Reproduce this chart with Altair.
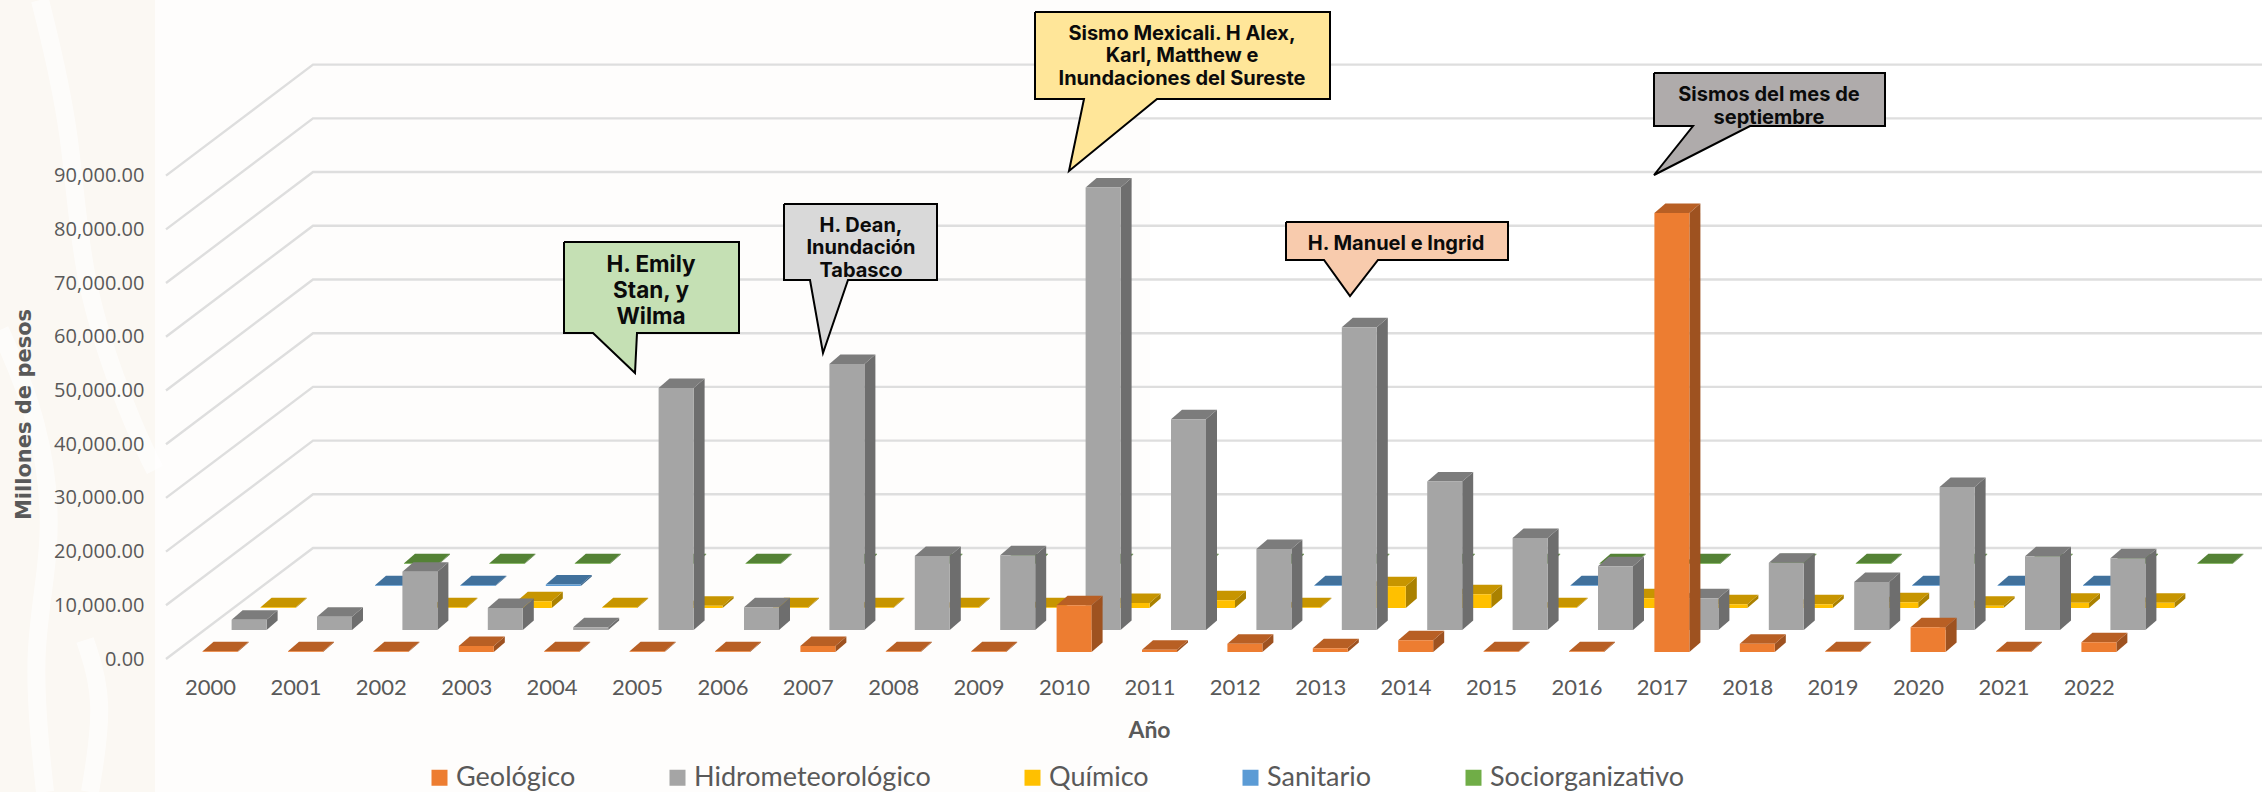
import altair as alt
import pandas as pd

# Annual damage by type of disaster, millions of pesos
YEARS = list(range(2000, 2023))
SERIES = ["Geológico", "Hidrometeorológico", "Químico", "Sanitario", "Sociorganizativo"]

GEOLOGICO = [120, 120, 120, 1120, 120, 120, 120, 1120, 120, 120, 8690, 430, 1550, 680, 2170,
             120, 120, 81750, 1550, 120, 4590, 120, 1800]
HIDRO = [1925, 2480, 10860, 4100, 500, 45070, 4250, 49530, 13780, 13900, 82400, 39230, 15080,
         56350, 27670, 17130, 11850, 5900, 12540, 8940, 26630, 13720, 13350]
QUIMICO = [120, None, 120, 1240, 120, 400, 120, 120, 120, 120, 930, 1430, 120, 4030, 2550,
           120, 1800, 680, 680, 1050, 430, 990, 990]
SANITARIO = [None, 120, 120, 300, None, None, None, None, None, None, None, None, 120, None, None,
             120, None, None, None, 120, 120, 120, None]
SOCIO = [None] + [120] * 22
VALUES = [GEOLOGICO, HIDRO, QUIMICO, SANITARIO, SOCIO]

FRONT = ["#ED7D31", "#A5A5A5", "#FFC000", "#5B9BD5", "#70AD47"]
TOP = ["#B85F24", "#7C7C7C", "#C79500", "#41719C", "#548235"]
SIDE = ["#9E5220", "#6E6E6E", "#AA8100", "#386287", "#4A7230"]

Y_TICKS = list(range(0, 100000, 10000))

# Page geometry of the oblique projection
PLOT_LEFT, PLOT_BOTTOM, PAGE_W, PAGE_H = 166, 665, 2262, 792
PX_PER_YEAR = 85.4
PESOS_PER_PX = 186.2
YEAR_ZERO_PX = 210
FLOOR_PX = 659


def year_at(px):
    return 2000 + (px - YEAR_ZERO_PX) / PX_PER_YEAR


def pesos_at(py):
    return (FLOOR_PX - py) * PESOS_PER_PX


def year_span(px):
    return px / PX_PER_YEAR


def pesos_span(px):
    return px * PESOS_PER_PX


X_SCALE = alt.Scale(domain=[year_at(PLOT_LEFT), year_at(PAGE_W)], nice=False, zero=False)
Y_SCALE = alt.Scale(domain=[pesos_at(PLOT_BOTTOM), pesos_at(0)], nice=False, zero=False)

LABEL_COLOR = "#595959"

X_AXIS = alt.Axis(
    values=YEARS, format="d", grid=False, domain=False, ticks=False, zindex=1,
    labelFont="Lato", labelFontSize=22, labelColor=LABEL_COLOR, labelPadding=12,
    labelFlush=False, labelOverlap=False,
    title="Año", titleFont="Lato", titleFontSize=23, titleFontWeight="bold",
    titleColor=LABEL_COLOR, titleX=983, titleY=54,
)
Y_AXIS = alt.Axis(
    values=Y_TICKS, format=",.2f", grid=False, domain=False, ticks=False, zindex=1,
    labelFont="Open Sans", labelFontSize=20, labelColor=LABEL_COLOR, labelPadding=22,
    title="Millones de pesos", titleFont="DejaVu Sans", titleFontSize=21,
    titleFontWeight="bold", titleColor=LABEL_COLOR, titleX=-132, titleY=414,
)
PLAIN_X = alt.X("x:Q", scale=X_SCALE, axis=X_AXIS)
PLAIN_Y = alt.Y("y:Q", scale=Y_SCALE, axis=Y_AXIS, stack=None)

layers = []

# Faint page backdrop, stronger along the left edge
BACKDROP = [
    {"x": year_at(0), "x2": year_at(155), "y": pesos_at(0), "y2": pesos_at(PAGE_H), "tone": "#FBF8F3"},
    {"x": year_at(155), "x2": year_at(1150), "y": pesos_at(0), "y2": pesos_at(PAGE_H), "tone": "#FEFDFC"},
]
layers.append(
    alt.Chart(pd.DataFrame(BACKDROP)).mark_rect().encode(
        x=PLAIN_X, x2="x2:Q", y=PLAIN_Y, y2="y2:Q",
        fill=alt.Fill("tone:N", scale=None),
    )
)
SWIRLS = [
    [(40, 0), (72, 130), (80, 280), (130, 420), (155, 470)],
    [(0, 330), (40, 420), (55, 540), (30, 650), (45, 792)],
    [(85, 640), (105, 700), (90, 792)],
]
for path in SWIRLS:
    stroke = pd.DataFrame(
        [{"i": i, "x": year_at(px), "y": pesos_at(py)} for i, (px, py) in enumerate(path)]
    )
    layers.append(
        alt.Chart(stroke).mark_line(color="#FFFFFF", strokeWidth=18, opacity=0.6, interpolate="basis").encode(
            x=PLAIN_X, y=PLAIN_Y, order="i:Q",
        )
    )

# Wall and floor gridlines
wall_dx, wall_dy = year_span(147), pesos_span(111)
grid_rows = []
for tick in Y_TICKS:
    grid_rows += [
        {"tick": tick, "i": 0, "x": year_at(PLOT_LEFT), "y": tick},
        {"tick": tick, "i": 1, "x": year_at(PLOT_LEFT) + wall_dx, "y": tick + wall_dy},
        {"tick": tick, "i": 2, "x": year_at(PAGE_W), "y": tick + wall_dy},
    ]
layers.append(
    alt.Chart(pd.DataFrame(grid_rows)).mark_line(color="#DEDEDE", strokeWidth=2.4).encode(
        x=PLAIN_X, y=PLAIN_Y, detail="tick:Q", order="i:Q",
    )
)

# Bars, painted back to front
ROW_DX, ROW_DY = year_span(29), pesos_span(22)
BAR_W = year_span(35)
DEPTH_DX, DEPTH_DY = year_span(11), pesos_span(9.5)
FIRST_BAR = year_span(-7.4)
FIRST_BASE = pesos_span(7)

for row in range(len(SERIES) - 1, -1, -1):
    fronts, sides, tops = [], [], []
    for year, value in zip(YEARS, VALUES[row]):
        if value is None:
            continue
        x0 = year + FIRST_BAR + row * ROW_DX
        x1 = x0 + BAR_W
        base = FIRST_BASE + row * ROW_DY
        top = base + value
        fronts.append({"year": year, "serie": SERIES[row], "x": x0, "x2": x1, "y": base, "y2": top})
        sides += [
            {"year": year, "x": x1, "y": base, "y2": top},
            {"year": year, "x": x1 + DEPTH_DX, "y": base + DEPTH_DY, "y2": top + DEPTH_DY},
        ]
        tops += [
            {"year": year, "x": x0, "y": top, "y2": top},
            {"year": year, "x": x0 + DEPTH_DX, "y": top, "y2": top + DEPTH_DY},
            {"year": year, "x": x1, "y": top, "y2": top + DEPTH_DY},
            {"year": year, "x": x1 + DEPTH_DX, "y": top + DEPTH_DY, "y2": top + DEPTH_DY},
        ]
    for rows, colour in ((sides, SIDE[row]), (tops, TOP[row])):
        layers.append(
            alt.Chart(pd.DataFrame(rows)).mark_area(color=colour, line=False, interpolate="linear").encode(
                x=PLAIN_X, y=PLAIN_Y, y2="y2:Q", detail="year:O",
            )
        )
    layers.append(
        alt.Chart(pd.DataFrame(fronts)).mark_rect().encode(
            x=PLAIN_X, x2="x2:Q", y=PLAIN_Y, y2="y2:Q",
            color=alt.Color(
                "serie:N",
                scale=alt.Scale(domain=SERIES, range=FRONT),
                legend=alt.Legend(
                    title=None, orient="none", legendX=260, legendY=764, direction="horizontal",
                    columns=5, columnPadding=88, symbolType="square", symbolSize=256,
                    symbolStrokeWidth=0, symbolOpacity=1, labelFont="Lato", labelFontSize=27,
                    labelColor=LABEL_COLOR, labelOffset=3, padding=0, labelLimit=400,
                ),
            ),
        )
    )

# Speech-bubble annotations: outline in page pixels, then one text per line
CALLOUTS = [
    {"fill": "#C5E0B4", "size": 22.5, "cx": 651,
     "lines": [("H. Emily", 265), ("Stan, y", 291), ("Wilma", 317)],
     "outline": [(564, 242), (739, 242), (739, 333), (637, 333), (635, 373), (593, 333), (564, 333)]},
    {"fill": "#D9D9D9", "size": 20, "cx": 861,
     "lines": [("H. Dean,", 226), ("Inundación", 248), ("Tabasco", 271)],
     "outline": [(784, 204), (937, 204), (937, 280), (848, 280), (823, 353), (810, 280), (784, 280)]},
    {"fill": "#FFE699", "size": 20, "cx": 1182,
     "lines": [("Sismo Mexicali. H Alex,", 34), ("Karl, Matthew e", 56), ("Inundaciones del Sureste", 79)],
     "outline": [(1035, 12), (1330, 12), (1330, 99), (1157, 99), (1069, 171), (1084, 99), (1035, 99)]},
    {"fill": "#F8CBAD", "size": 20, "cx": 1396,
     "lines": [("H. Manuel e Ingrid", 244)],
     "outline": [(1286, 222), (1508, 222), (1508, 260), (1378, 260), (1350, 296), (1324, 260), (1286, 260)]},
    {"fill": "#AFABAB", "size": 20, "cx": 1769,
     "lines": [("Sismos del mes de", 95), ("septiembre", 118)],
     "outline": [(1654, 73), (1885, 73), (1885, 126), (1750, 126), (1654, 175), (1693, 126), (1654, 126)]},
]
for note in CALLOUTS:
    ring = note["outline"] + note["outline"][:1]
    outline = pd.DataFrame(
        [{"i": i, "x": year_at(px), "y": pesos_at(py)} for i, (px, py) in enumerate(ring)]
    )
    layers.append(
        alt.Chart(outline).mark_line(fill=note["fill"], stroke="#000000", strokeWidth=2).encode(
            x=PLAIN_X, y=PLAIN_Y, order="i:Q",
        )
    )
    words = pd.DataFrame(
        [{"x": year_at(note["cx"]), "y": pesos_at(py), "t": text} for text, py in note["lines"]]
    )
    layers.append(
        alt.Chart(words).mark_text(
            font="Inter", fontWeight=700, fontSize=note["size"], color="#0B0B0B",
            align="center", baseline="middle",
        ).encode(x=PLAIN_X, y=PLAIN_Y, text="t:N")
    )

chart = alt.layer(*layers).properties(
    width=PAGE_W - PLOT_LEFT,
    height=PLOT_BOTTOM,
    autosize=alt.AutoSizeParams(type="none"),
    padding={"left": PLOT_LEFT, "top": 0, "right": 0, "bottom": PAGE_H - PLOT_BOTTOM},
    background="#FFFFFF",
).configure_view(strokeWidth=0)

chart.save("out.html", embed_options={"renderer": "svg", "actions": False})
